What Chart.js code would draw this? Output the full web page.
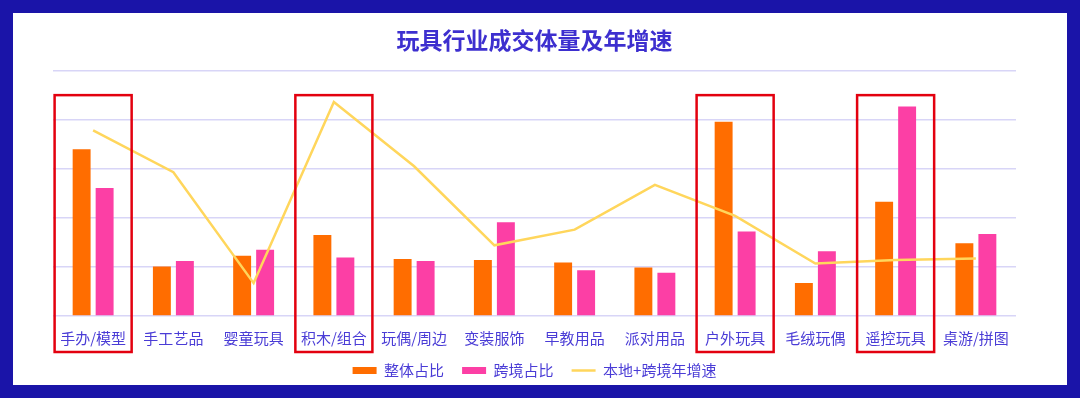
<!DOCTYPE html>
<html>
<head>
<meta charset="utf-8">
<script src="https://cdn.jsdelivr.net/npm/chart.js@4/dist/chart.umd.min.js"></script>
<style>
  html, body { margin: 0; padding: 0; }
  body { width: 1080px; height: 398px; background: #1a14a8; position: relative; overflow: hidden; }
  #box { position: absolute; left: 13px; top: 13px; width: 1054px; height: 372px; background: #fff; }
  canvas { display: block; }
</style>
</head>
<body>
<div id="box"><canvas id="toyChart" width="1054" height="372"></canvas></div>
<script>
// 数据
const categories = ['手办/模型', '手工艺品', '婴童玩具', '积木/组合', '玩偶/周边', '变装服饰', '早教用品', '派对用品', '户外玩具', '毛绒玩偶', '遥控玩具', '桌游/拼图'];
const overallShare = [3.40, 1.01, 1.23, 1.65, 1.16, 1.14, 1.09, 0.99, 3.96, 0.67, 2.33, 1.48];
const crossShare = [2.61, 1.12, 1.35, 1.19, 1.12, 1.91, 0.93, 0.88, 1.72, 1.32, 4.27, 1.67];
const yearGrowth = [3.78, 2.93, 0.67, 4.36, 3.05, 1.44, 1.76, 2.67, 2.04, 1.07, 1.14, 1.17];
const highlighted = [0, 3, 8, 10];

const textColor = '#4a3cd6';
const fontFamily = '"Noto Sans CJK SC", "Noto Sans", sans-serif';

// 红框标注
const highlightBoxes = {
    id: 'highlightBoxes',
    afterDatasetsDraw(chart) {
        const x = chart.scales.x, y = chart.scales.y, c = chart.ctx;
        const half = (x.getPixelForValue(1) - x.getPixelForValue(0)) * 0.48;
        const top = y.getPixelForValue(4.5);
        const bottom = chart.chartArea.bottom + 36;
        c.save();
        c.strokeStyle = '#e3000f';
        c.lineWidth = 2.5;
        highlighted.forEach(i => {
            const cx = x.getPixelForValue(i);
            c.strokeRect(cx - half, top, half * 2, bottom - top);
        });
        c.restore();
    }
};

const ctx = document.getElementById('toyChart').getContext('2d');
new Chart(ctx, {
    data: {
        labels: categories,
        datasets: [
            { type: 'bar', label: '整体占比', data: overallShare, backgroundColor: '#ff6d00', order: 1,
              categoryPercentage: 0.573, barPercentage: 0.78 },
            { type: 'bar', label: '跨境占比', data: crossShare, backgroundColor: '#fc3fa5', order: 1,
              categoryPercentage: 0.573, barPercentage: 0.78 },
            { type: 'line', label: '本地+跨境年增速', data: yearGrowth, borderColor: '#ffd65c', backgroundColor: '#ffd65c',
              borderWidth: 2.5, pointRadius: 0, tension: 0, order: 0 }
        ]
    },
    options: {
        responsive: false,
        animation: false,
        layout: { padding: { left: 40, right: 51, top: 0, bottom: -3 } },
        plugins: {
            tooltip: { enabled: false },
            title: {
                display: true,
                text: '玩具行业成交体量及年增速',
                color: '#3d2fcf',
                font: { family: fontFamily, size: 23, weight: 'bold' },
                padding: { top: 13, bottom: 17 }
            },
            legend: {
                position: 'bottom',
                labels: {
                    color: textColor,
                    font: { family: fontFamily, size: 15 },
                    usePointStyle: true,
                    pointStyleWidth: 24,
                    boxHeight: 7,
                    padding: 3,
                    sort: (a, b) => a.datasetIndex - b.datasetIndex,
                    generateLabels(chart) {
                        const items = Chart.defaults.plugins.legend.labels.generateLabels(chart);
                        items.forEach(it => {
                            const ds = chart.data.datasets[it.datasetIndex];
                            it.pointStyle = ds.type === 'line' ? 'line' : 'rect';
                            if (ds.type !== 'line') {
                                it.lineWidth = 0;
                                it.text = it.text + '\u3000'; // 图例间距
                            }
                        });
                        return items;
                    }
                }
            }
        },
        scales: {
            x: {
                grid: { display: false, drawTicks: false },
                border: { display: false },
                ticks: { color: textColor, font: { family: fontFamily, size: 15 }, padding: 13 }
            },
            y: {
                min: 0, max: 5,
                ticks: { display: false, stepSize: 1 },
                grid: { color: '#d8d5f7', lineWidth: 1.5, drawTicks: false },
                border: { display: false }
            }
        }
    },
    plugins: [highlightBoxes]
});
</script>
</body>
</html>
